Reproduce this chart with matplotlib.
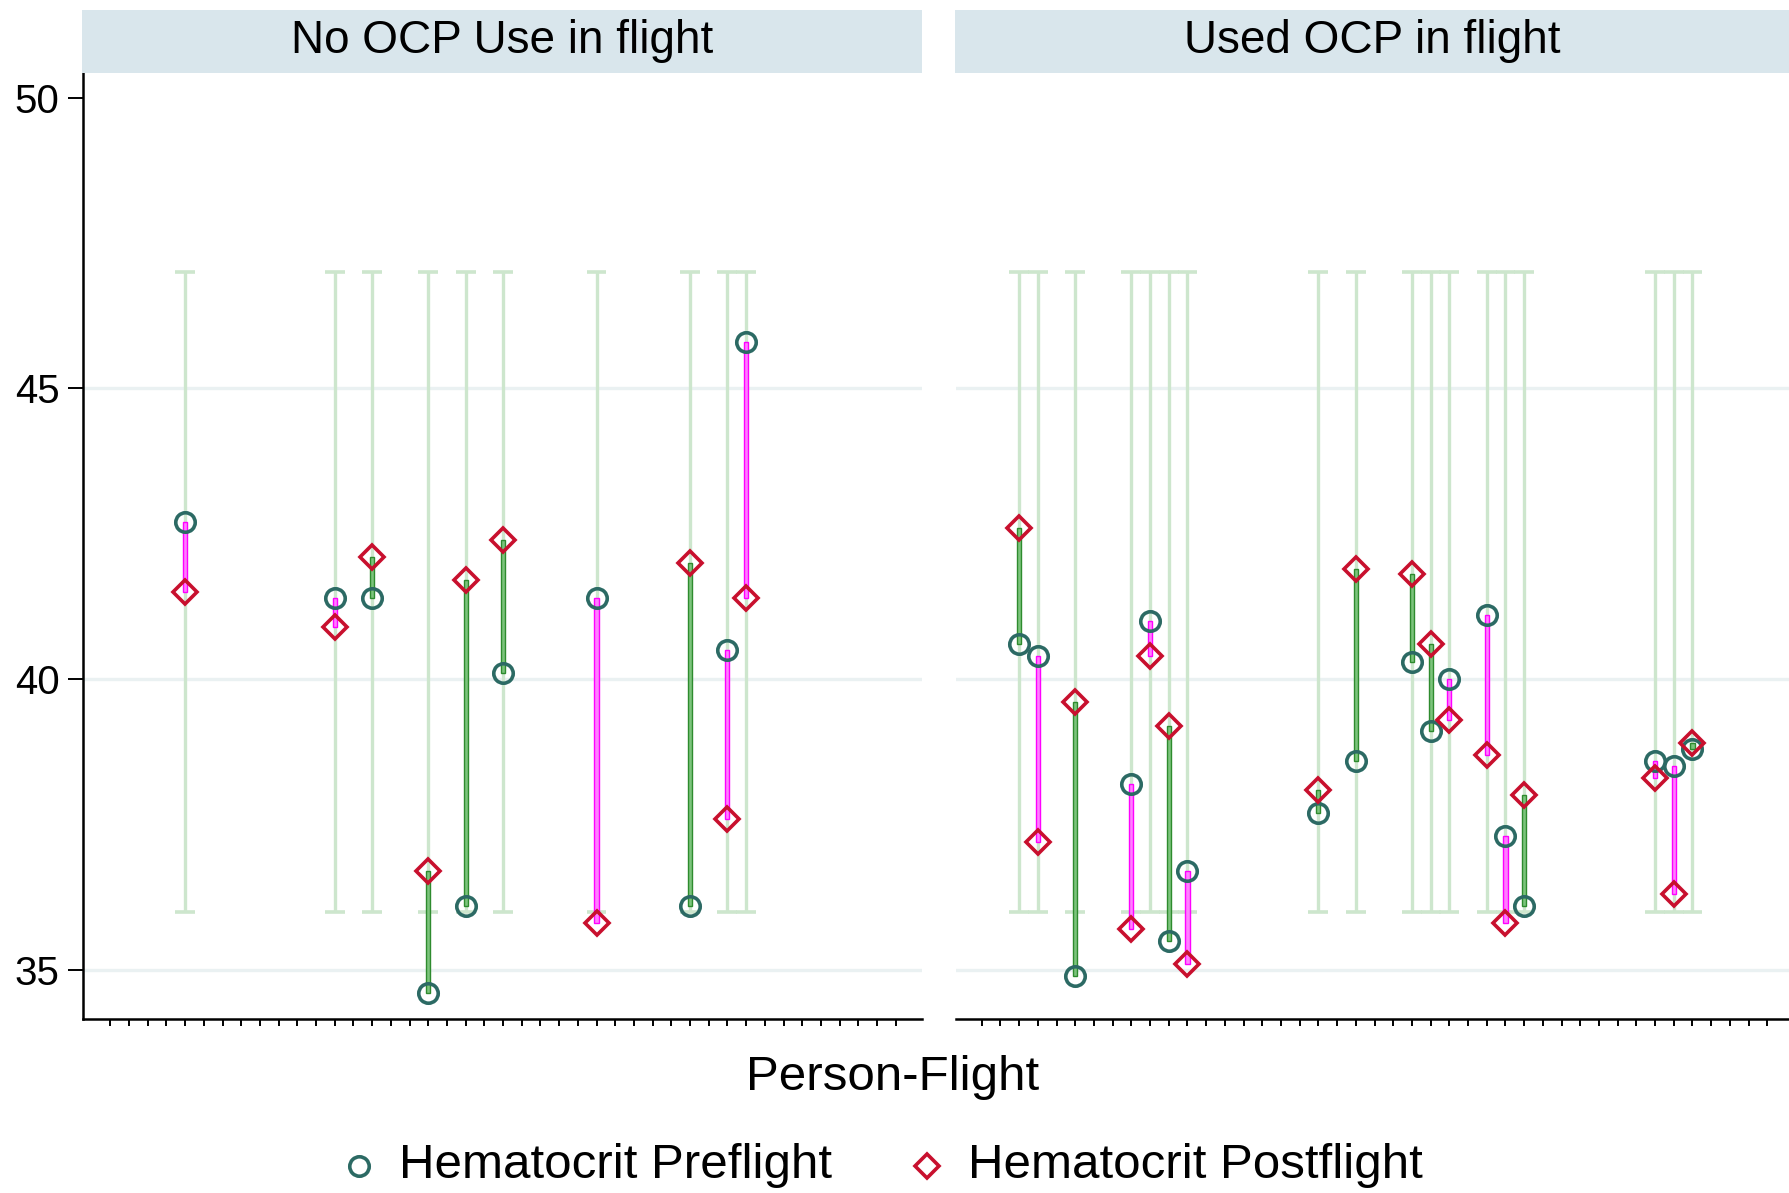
import matplotlib
matplotlib.use("Agg")
import matplotlib.pyplot as plt
from matplotlib.lines import Line2D

plt.rcParams['font.family'] = ['Liberation Sans', 'DejaVu Sans']

# panel titles
panels = ["No OCP Use in flight", "Used OCP in flight"]

# person-flight index, hematocrit pre / post
left_pos = [5, 13, 15, 18, 20, 22, 27, 32, 34, 35]
left_pre = [42.7, 41.4, 41.4, 34.6, 36.1, 40.1, 41.4, 36.1, 40.5, 45.8]
left_post = [41.5, 40.9, 42.1, 36.7, 41.7, 42.4, 35.8, 42.0, 37.6, 41.4]

right_pos = [3, 4, 6, 9, 10, 11, 12, 19, 21, 24, 25, 26, 28, 29, 30, 37, 38, 39]
right_pre = [40.6, 40.4, 34.9, 38.2, 41.0, 35.5, 36.7, 37.7, 38.6, 40.3, 39.1,
             40.0, 41.1, 37.3, 36.1, 38.6, 38.5, 38.8]
right_post = [42.6, 37.2, 39.6, 35.7, 40.4, 39.2, 35.1, 38.1, 41.9, 41.8, 40.6,
              39.3, 38.7, 35.8, 38.0, 38.3, 36.3, 38.9]

# normal range
range_low = 36
range_high = 47

legend_labels = ["Hematocrit Preflight", "Hematocrit Postflight"]
x_ticks = list(range(1, 44))
y_ticks = [35, 40, 45, 50]
grid_y = [35, 40, 45]

W, H = 1789, 1193
fig = plt.figure(figsize=(W / 100, H / 100), dpi=100)

ax_bottom = 1 - 1018.7 / H
ax_top = 1 - 72.7 / H
ax_l = fig.add_axes([83 / W, ax_bottom, (921.7 - 83) / W, ax_top - ax_bottom])
ax_r = fig.add_axes([956.3 / W, ax_bottom, (W - 956.3) / W, ax_top - ax_bottom])

strip_col = "#d9e6ec"
grid_col = "#eaf1f2"
rng_col = "#cde6cd"
pre_col = "#2c6a64"
post_col = "#c8102e"
pre_style = dict(ls="none", marker="o", ms=14, mfc="none", mec=pre_col, mew=2.6)
post_style = dict(ls="none", marker="D", ms=12, mfc="none", mec=post_col, mew=2.6)


def draw_panel(ax, pos, pre, post, xlim):
    ax.set_xlim(*xlim)
    ax.set_ylim(34.16, 50.43)
    for g in grid_y:
        ax.axhline(g, color=grid_col, lw=2.4, zorder=0)
    # normal range caps
    ax.vlines(pos, range_low, range_high, color=rng_col, lw=2.4, zorder=1)
    for p in pos:
        ax.hlines([range_low, range_high], p - 0.53, p + 0.53, color=rng_col, lw=2.6, zorder=1)
    # change bars
    for p, a, b in zip(pos, pre, post):
        if b > a:
            fc, ec = "#7cc47c", "#2e8b2e"
        else:
            fc, ec = "#ff80ff", "#ff00ff"
        ax.bar(p, abs(b - a), bottom=min(a, b), width=0.22, color=fc,
               edgecolor=ec, linewidth=1.0, zorder=2)
    ax.plot(pos, pre, zorder=3, **pre_style)
    ax.plot(pos, post, zorder=4, **post_style)
    ax.set_xticks(x_ticks)
    ax.set_xticklabels([])
    ax.tick_params(axis="x", length=5, width=1.4, direction="out")
    for s in ["top", "right"]:
        ax.spines[s].set_visible(False)
    ax.spines["bottom"].set_linewidth(1.8)


draw_panel(ax_l, left_pos, left_pre, left_post, (-0.46, 44.39))
draw_panel(ax_r, right_pos, right_pre, right_post, (-0.36, 44.16))

ax_l.set_yticks(y_ticks)
ax_l.tick_params(axis="y", length=11, width=1.4, labelsize=29, pad=6)
ax_l.spines["left"].set_linewidth(1.8)
ax_r.set_yticks([])
ax_r.spines["left"].set_visible(False)

# strip headers
strips = [(82, 921.7), (955, W)]
for (x0, x1), title in zip(strips, panels):
    sax = fig.add_axes([x0 / W, ax_top, (x1 - x0) / W, 62.7 / H])
    sax.set_facecolor(strip_col)
    sax.set_xticks([])
    sax.set_yticks([])
    for s in sax.spines.values():
        s.set_visible(False)
    sax.text(0.5, 0.5, title, ha="center", va="center", fontsize=33,
             transform=sax.transAxes)

fig.text(893 / W, 1 - 1078 / H, "Person-Flight", ha="center", va="center", fontsize=35.5)

# legend drawn by hand at the bottom
leg_y = 1 - 1166 / H
for mx, tx, style, label in zip([359, 926.5], [399, 967.6], [pre_style, post_style], legend_labels):
    fig.add_artist(Line2D([mx / W], [leg_y], transform=fig.transFigure, **style))
    fig.text(tx / W, leg_y, label, ha="left", va="center", fontsize=35.5)

fig.savefig("out.png", dpi=100)
